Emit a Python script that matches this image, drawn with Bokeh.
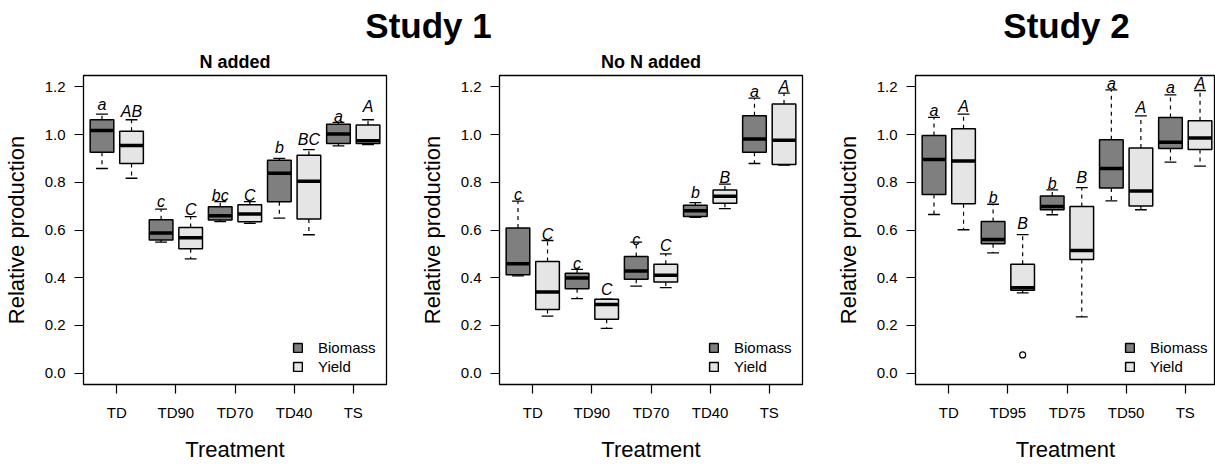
import numpy as np
from bokeh.plotting import figure
from bokeh.models import (Range1d, FixedTicker, Legend, LegendItem,
                          ColumnDataSource, PrintfTickFormatter)
from bokeh.layouts import column, row
from bokeh.embed import file_html
from bokeh.resources import INLINE
from bokeh.core.properties import value

# ---------------- data ----------------
study_titles = ["Study 1", "Study 2"]
panel_titles = ["N added", "No N added", ""]
treat_study1 = ["TD", "TD90", "TD70", "TD40", "TS"]
treat_study2 = ["TD", "TD95", "TD75", "TD50", "TS"]
series = ["Biomass", "Yield"]

# boxes ordered: TD-Biomass, TD-Yield, next treatment Biomass, Yield, ...
p1_wlo = [0.858, 0.817, 0.549, 0.479, 0.635, 0.628, 0.650, 0.580, 0.953, 0.958]
p1_q1 = [0.926, 0.879, 0.558, 0.521, 0.642, 0.635, 0.719, 0.646, 0.9625, 0.9625]
p1_med = [1.017, 0.954, 0.5875, 0.567, 0.660, 0.667, 0.8375, 0.804, 1.003, 0.974]
p1_q3 = [1.0625, 1.014, 0.643, 0.611, 0.697, 0.706, 0.893, 0.914, 1.044, 1.040]
p1_whi = [1.086, 1.0625, 0.6875, 0.656, 0.719, 0.719, 0.900, 0.9375, 1.051, 1.0625]
p1_letters = ["a", "AB", "c", "C", "bc", "C", "b", "BC", "a", "A"]
p1_letter_y = [1.125, 1.097, 0.719, 0.6875, 0.743, 0.746, 0.944, 0.979, 1.076, 1.118]

p2_wlo = [0.408, 0.239, 0.3125, 0.1875, 0.365, 0.358, 0.653, 0.690, 0.879, 0.872]
p2_q1 = [0.4125, 0.267, 0.354, 0.226, 0.393, 0.382, 0.657, 0.7125, 0.926, 0.875]
p2_med = [0.458, 0.340, 0.399, 0.2875, 0.428, 0.410, 0.681, 0.742, 0.982, 0.976]
p2_q3 = [0.608, 0.468, 0.419, 0.310, 0.489, 0.456, 0.704, 0.768, 1.079, 1.128]
p2_whi = [0.721, 0.556, 0.435, 0.310, 0.549, 0.500, 0.715, 0.792, 1.153, 1.174]
p2_letters = ["c", "C", "c", "C", "c", "C", "b", "B", "a", "A"]
p2_letter_y = [0.747, 0.581, 0.458, 0.350, 0.560, 0.535, 0.757, 0.819, 1.181, 1.201]

p3_wlo = [0.665, 0.601, 0.504, 0.336, 0.664, 0.236, 0.722, 0.685, 0.885, 0.868]
p3_q1 = [0.749, 0.710, 0.542, 0.347, 0.685, 0.476, 0.776, 0.701, 0.942, 0.9375]
p3_med = [0.896, 0.889, 0.560, 0.358, 0.699, 0.514, 0.858, 0.764, 0.968, 0.986]
p3_q3 = [0.996, 1.025, 0.636, 0.456, 0.743, 0.699, 0.979, 0.944, 1.072, 1.058]
p3_whi = [1.072, 1.086, 0.708, 0.581, 0.768, 0.778, 1.1875, 1.079, 1.167, 1.185]
p3_letters = ["a", "A", "b", "B", "b", "B", "a", "A", "a", "A"]
p3_letter_y = [1.100, 1.118, 0.736, 0.628, 0.796, 0.822, 1.215, 1.114, 1.197, 1.2125]
p3_outlier_box = [4]
p3_outlier_val = [0.076]

y_ticks = [0.0, 0.2, 0.4, 0.6, 0.8, 1.0, 1.2]

# ---------------- style ----------------
FONT = "Liberation Sans"
C_BIO = "#7f7f7f"
C_YLD = "#e5e5e5"
HEADER_H = 45
PANEL_H = 464 - HEADER_H
FRAME_W = 303
FRAME_H = 311
BORDER_L = 83
BORDER_T = 30
BORDER_B = PANEL_H - BORDER_T - FRAME_H
X0, X1 = 0.375, 10.625
Y0, Y1 = -0.048, 1.248
BOXW = 0.8
STUDY_TITLE_X = [428, 1066]   # title centres, pixels from the left
STUDY_TITLE_MID = 25          # title vertical middle, pixels from the top


def make_panel(title, treatments, wlo, q1, med, q3, whi, letters, letter_y,
               out_box=None, out_val=None, canvas_w=416, frame_w=FRAME_W):
    right_border = canvas_w - BORDER_L - frame_w
    x_end = X0 + (X1 - X0) * frame_w / FRAME_W
    p = figure(width=canvas_w, height=PANEL_H, output_backend="svg",
               toolbar_location=None, x_range=Range1d(X0, x_end),
               y_range=Range1d(Y0, Y1), min_border_left=BORDER_L,
               min_border_right=right_border, min_border_top=BORDER_T,
               min_border_bottom=BORDER_B)
    p.xgrid.visible = False
    p.ygrid.visible = False
    p.outline_line_color = "black"
    p.outline_line_width = 1.3
    p.background_fill_color = "white"

    if title:
        p.title.text = title
        p.title.align = "center"
        p.title.text_font = FONT
        p.title.text_font_style = "bold"
        p.title.text_font_size = "18px"
        p.title.text_color = "black"
        p.title.standoff = 8

    n = len(med)
    xs = np.arange(1, n + 1, dtype=float)
    src = ColumnDataSource(dict(x=xs, wlo=wlo, q1=q1, med=med, q3=q3, whi=whi,
                                x0=xs - BOXW / 2, x1=xs + BOXW / 2,
                                c0=xs - BOXW / 4, c1=xs + BOXW / 4,
                                lab=letters, ly=letter_y))
    # whiskers (dashed)
    p.segment("x", "q3", "x", "whi", source=src, line_color="black",
              line_width=1.2, line_dash="4 4")
    p.segment("x", "q1", "x", "wlo", source=src, line_color="black",
              line_width=1.2, line_dash="4 4")
    # caps
    p.segment("c0", "whi", "c1", "whi", source=src, line_color="black", line_width=1.3)
    p.segment("c0", "wlo", "c1", "wlo", source=src, line_color="black", line_width=1.3)

    bio = ColumnDataSource(dict(x=xs[0::2], q1=q1[0::2], q3=q3[0::2]))
    yld = ColumnDataSource(dict(x=xs[1::2], q1=q1[1::2], q3=q3[1::2]))
    r_bio = p.vbar(x="x", width=BOXW, bottom="q1", top="q3", source=bio,
                   fill_color=C_BIO, line_color="black", line_width=1.5)
    r_yld = p.vbar(x="x", width=BOXW, bottom="q1", top="q3", source=yld,
                   fill_color=C_YLD, line_color="black", line_width=1.5)
    # medians
    p.segment("x0", "med", "x1", "med", source=src, line_color="black", line_width=3.5)

    if out_box:
        p.scatter(x=[float(b) for b in out_box], y=out_val, size=6,
                  fill_color=None, line_color="black", line_width=1.2)

    p.text(x="x", y="ly", text="lab", source=src, text_align="center",
           text_baseline="middle", text_font=value(FONT),
           text_font_style="italic", text_font_size="16px", text_color="black")

    # axes
    ticks = [1.5 + 2 * i for i in range(len(treatments))]
    p.xaxis.ticker = FixedTicker(ticks=ticks)
    p.xaxis.major_label_overrides = {t: lab for t, lab in zip(ticks, treatments)}
    p.yaxis.ticker = FixedTicker(ticks=y_ticks)
    p.yaxis.formatter = PrintfTickFormatter(format="%.1f")
    for ax in (p.xaxis[0], p.yaxis[0]):
        ax.axis_line_color = None
        ax.major_tick_out = 9
        ax.major_tick_in = 0
        ax.minor_tick_line_color = None
        ax.major_tick_line_color = "black"
        ax.major_tick_line_width = 1.2
        ax.major_label_text_font = FONT
        ax.major_label_text_color = "black"
        ax.axis_label_text_font = FONT
        ax.axis_label_text_font_style = "normal"
        ax.axis_label_text_font_size = "22px"
        ax.axis_label_text_color = "black"
    p.xaxis.major_label_text_font_size = "15px"
    p.yaxis.major_label_text_font_size = "15px"
    p.xaxis.major_label_standoff = 10
    p.yaxis.major_label_standoff = 9
    p.xaxis.axis_label = "Treatment"
    p.yaxis.axis_label = "Relative production"
    p.xaxis.axis_label_standoff = 13
    p.yaxis.axis_label_standoff = 13

    legend = Legend(items=[LegendItem(label=series[0], renderers=[r_bio]),
                           LegendItem(label=series[1], renderers=[r_yld])],
                    location=(209, 8.5), orientation="vertical",
                    glyph_width=11, glyph_height=11, label_height=19,
                    label_standoff=15, spacing=0, padding=0, margin=0,
                    border_line_color=None, background_fill_alpha=0,
                    label_text_font=FONT, label_text_font_size="15px",
                    label_text_color="black")
    p.add_layout(legend, "center")
    return p


p1 = make_panel(panel_titles[0], treat_study1, p1_wlo, p1_q1, p1_med, p1_q3,
                p1_whi, p1_letters, p1_letter_y)
p2 = make_panel(panel_titles[1], treat_study1, p2_wlo, p2_q1, p2_med, p2_q3,
                p2_whi, p2_letters, p2_letter_y)
p3 = make_panel(panel_titles[2], treat_study2, p3_wlo, p3_q1, p3_med, p3_q3,
                p3_whi, p3_letters, p3_letter_y, p3_outlier_box, p3_outlier_val,
                canvas_w=1215 - 2 * 416, frame_w=1215 - 2 * 416 - BORDER_L)

header = figure(width=1215, height=HEADER_H, output_backend="svg",
                toolbar_location=None, x_range=Range1d(0, 1215),
                y_range=Range1d(HEADER_H, 0), min_border=0)
header.axis.visible = False
header.grid.visible = False
header.outline_line_color = None
hsrc = ColumnDataSource(dict(x=STUDY_TITLE_X, y=[STUDY_TITLE_MID] * 2,
                             t=study_titles))
header.text(x="x", y="y", text="t", source=hsrc, text_align="center",
            text_baseline="middle", text_font=value(FONT),
            text_font_style="bold", text_font_size="35px", text_color="black")

layout = column(header, row(p1, p2, p3))
open("out.html", "w").write(file_html(layout, INLINE))
